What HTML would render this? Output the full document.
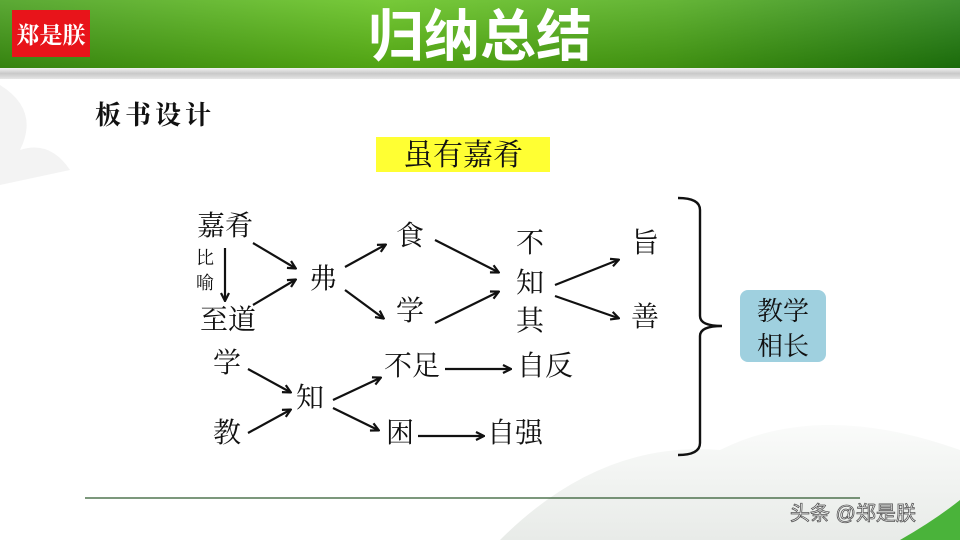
<!DOCTYPE html>
<html><head><meta charset="utf-8"><style>
html,body{margin:0;padding:0;width:960px;height:540px;overflow:hidden;background:#fff}
text{font-family:"Liberation Serif","Noto Serif CJK SC",serif;fill:#111}
</style></head><body>
<svg width="960" height="540" viewBox="0 0 960 540" xmlns="http://www.w3.org/2000/svg">
<defs>
<linearGradient id="g" x1="0" x2="1" y1="0" y2="0">
<stop offset="0" stop-color="#3f9a12"/><stop offset="0.4" stop-color="#5fc016"/><stop offset="0.7" stop-color="#4aa814"/><stop offset="1" stop-color="#1f7d0c"/>
</linearGradient>
<linearGradient id="gv" x1="0" x2="0" y1="0" y2="1">
<stop offset="0" stop-color="#fff" stop-opacity="0.15"/><stop offset="1" stop-color="#000" stop-opacity="0.15"/>
</linearGradient>
<linearGradient id="gr" x1="0" x2="0" y1="0" y2="1">
<stop offset="0" stop-color="#f2f2f2"/><stop offset="0.5" stop-color="#c8c8c8"/><stop offset="1" stop-color="#e6e6e6"/>
</linearGradient>
<linearGradient id="mt" x1="0" x2="0" y1="0" y2="1">
<stop offset="0" stop-color="#fafbfa"/><stop offset="1" stop-color="#e8ebe8"/>
</linearGradient>
<marker id="a" markerWidth="10" markerHeight="10" refX="8" refY="5" orient="auto" markerUnits="userSpaceOnUse">
<path d="M1,1 L9,5 L1,9" fill="none" stroke="#111" stroke-width="2.2"/>
</marker>
</defs>
<rect x="0" y="0" width="960" height="68" fill="url(#g)"/>
<rect x="0" y="0" width="960" height="68" fill="url(#gv)"/>
<rect x="0" y="68" width="960" height="11" fill="url(#gr)"/>
<rect x="12" y="10" width="78" height="47" fill="#e8141a"/>
<text x="51" y="43" text-anchor="middle" font-size="23" font-weight="bold" style="fill:#fff">郑是朕</text>
<text x="480" y="56" text-anchor="middle" font-size="56" font-weight="bold" style="fill:#fff;font-family:'Liberation Sans','Noto Sans CJK SC',sans-serif">归纳总结</text>
<path d="M500,540 Q600,440 720,450 Q820,400 960,450 L960,540 Z" fill="url(#mt)"/>
<path d="M0,85 Q40,110 20,150 Q50,140 70,170 L0,185 Z" fill="#f3f3f3"/>
<text x="95" y="124" font-size="26" font-weight="bold" letter-spacing="4">板书设计</text>
<rect x="376" y="137" width="174" height="35" fill="#ffff33"/>
<text x="463" y="165" text-anchor="middle" font-size="30">虽有嘉肴</text>
<g font-size="28" text-anchor="middle">
<text x="225" y="235">嘉肴</text>
<text x="228" y="329">至道</text>
<text x="323" y="288">弗</text>
<text x="410" y="245">食</text>
<text x="410" y="320">学</text>
<text x="530" y="252">不</text>
<text x="530" y="292">知</text>
<text x="530" y="330">其</text>
<text x="645" y="252">旨</text>
<text x="645" y="326">善</text>
<text x="227" y="372">学</text>
<text x="310" y="407">知</text>
<text x="227" y="442">教</text>
<text x="412" y="375">不足</text>
<text x="545" y="375">自反</text>
<text x="400" y="442">困</text>
<text x="515" y="442">自强</text>
</g>
<text x="205" y="264" font-size="18" text-anchor="middle">比</text>
<text x="205" y="289" font-size="18" text-anchor="middle">喻</text>
<g stroke="#111" stroke-width="2.2" marker-end="url(#a)">
<line x1="225" y1="248" x2="225" y2="300"/>
<line x1="253" y1="243" x2="295" y2="268"/>
<line x1="253" y1="305" x2="295" y2="280"/>
<line x1="345" y1="267" x2="385" y2="245"/>
<line x1="345" y1="290" x2="383" y2="318"/>
<line x1="435" y1="240" x2="498" y2="272"/>
<line x1="435" y1="323" x2="498" y2="292"/>
<line x1="555" y1="285" x2="618" y2="260"/>
<line x1="555" y1="296" x2="618" y2="318"/>
<line x1="248" y1="369" x2="290" y2="392"/>
<line x1="248" y1="433" x2="290" y2="410"/>
<line x1="333" y1="400" x2="380" y2="378"/>
<line x1="333" y1="408" x2="378" y2="430"/>
<line x1="445" y1="369" x2="510" y2="369"/>
<line x1="418" y1="436" x2="483" y2="436"/>
</g>
<path d="M678,198 Q700,198 700,210 L700,316 Q700,326 722,326 Q700,326 700,336 L700,443 Q700,455 678,455" fill="none" stroke="#111" stroke-width="2.4"/>
<rect x="740" y="290" width="86" height="72" rx="8" fill="#9fd0df"/>
<text x="783" y="320" font-size="26" text-anchor="middle">教学</text>
<text x="783" y="355" font-size="26" text-anchor="middle">相长</text>
<line x1="85" y1="498" x2="860" y2="498" stroke="#2e5a2e" stroke-width="1.2"/>
<path d="M900,540 Q935,520 960,500 L960,540 Z" fill="#4ab33a"/>
<text x="790" y="520" font-size="20" style="fill:#fff;stroke:#555;stroke-width:0.8;font-family:'Liberation Sans','Noto Sans CJK SC',sans-serif">头条 @郑是朕</text>
</svg>
</body></html>
